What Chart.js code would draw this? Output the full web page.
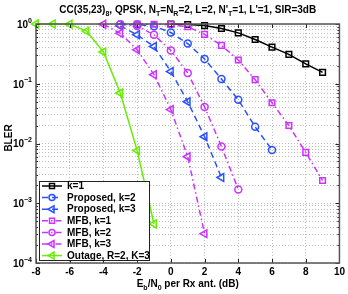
<!DOCTYPE html>
<html>
<head>
<meta charset="utf-8">
<script src="https://cdn.jsdelivr.net/npm/chart.js@4/dist/chart.umd.min.js"></script>
<style>
  html, body { margin: 0; padding: 0; background: #fff; }
  #wrap { width: 348px; height: 294px; }
</style>
</head>
<body>
<div id="wrap"><canvas id="graficaBler" width="348" height="294"></canvas></div>
<script>
// valores (Eb/N0 en dB, BLER)
const k1X = [0, 1, 2, 3, 4, 5, 6, 7, 8, 9];
const k1Y = [1.0, 0.98, 0.94, 0.84, 0.71, 0.55, 0.41, 0.31, 0.215, 0.155];

const propK2X = [-3, -2, -1, 0, 1, 2, 3, 4, 5, 6];
const propK2Y = [0.99, 0.98, 0.92, 0.72, 0.47, 0.26, 0.12, 0.054, 0.019, 0.0078];

const propK3X = [-3, -2, -1, 0, 1, 2, 3];
const propK3Y = [0.93, 0.66, 0.42, 0.16, 0.05, 0.013, 0.0027];

const mfbK1X = [-2, -1, 0, 1, 2, 3, 4, 5, 6, 7, 8, 9];
const mfbK1Y = [1.0, 0.99, 0.98, 0.9, 0.67, 0.44, 0.25, 0.117, 0.048, 0.02, 0.0071, 0.0024];

const mfbK2X = [-3, -2, -1, 0, 1, 2, 3, 4];
const mfbK2Y = [0.99, 0.93, 0.66, 0.36, 0.152, 0.041, 0.0089, 0.0017];

const mfbK3X = [-4, -3, -2, -1, 0, 1, 2];
const mfbK3Y = [0.99, 0.70, 0.37, 0.142, 0.037, 0.006, 0.00031];

const outX = [-8, -7, -6, -5, -4, -3, -2, -1];
const outY = [1.0, 1.0, 0.99, 0.76, 0.34, 0.07, 0.0076, 0.00045];

const xTicks = [-8, -6, -4, -2, 0, 2, 4, 6, 8, 10];
const yDecades = [-4, -3, -2, -1, 0];

const FONT = '"Liberation Sans", Arial, Helvetica, sans-serif';
const BLUE = 'rgb(40, 80, 255)';
const PURPLE = 'rgb(204, 51, 255)';
const GREEN = 'rgb(102, 238, 0)';

function pts(xs, ys) {
  return xs.map(function (x, i) { return { x: x, y: ys[i] }; });
}

function serie(label, xs, ys, color, style, dash, radius) {
  return {
    label: label,
    data: pts(xs, ys),
    borderColor: color,
    backgroundColor: 'rgba(0,0,0,0)',
    pointBorderColor: color,
    pointBackgroundColor: 'rgba(0,0,0,0)',
    borderWidth: 1.5,
    pointBorderWidth: 1.5,
    borderDash: dash,
    pointStyle: style,
    pointRotation: style === 'triangle' ? -90 : 0,
    pointRadius: radius,
    tension: 0,
    clip: false
  };
}

const datasets = [
  serie('k=1', k1X, k1Y, '#000', 'rect', [], 4),
  serie('Proposed, k=2', propK2X, propK2Y, BLUE, 'circle', [6, 4], 3.5),
  serie('Proposed, k=3', propK3X, propK3Y, BLUE, 'triangle', [6, 4], 4.5),
  serie('MFB, k=1', mfbK1X, mfbK1Y, PURPLE, 'rect', [6, 3, 1.5, 3], 4),
  serie('MFB, k=2', mfbK2X, mfbK2Y, PURPLE, 'circle', [6, 3, 1.5, 3], 3.5),
  serie('MFB, k=3', mfbK3X, mfbK3Y, PURPLE, 'triangle', [6, 3, 1.5, 3], 4.5),
  serie('Outage, R=2, K=3', outX, outY, GREEN, 'triangle', [], 4.5)
];
// el ultimo trazado queda encima, como en matlab
datasets.forEach(function (d, i) { d.order = datasets.length - i; });

// texto con subindices / superindices: partes [texto, 'n'|'b'|'p']
function richWidth(ctx, parts, size) {
  let w = 0;
  parts.forEach(function (p) {
    ctx.font = 'bold ' + (p[1] === 'n' ? size : Math.round(size * 0.72)) + 'px ' + FONT;
    w += ctx.measureText(p[0]).width;
  });
  return w;
}

function drawRich(ctx, parts, x, y, size, align) {
  const w = richWidth(ctx, parts, size);
  let cx = align === 'center' ? x - w / 2 : (align === 'right' ? x - w : x);
  ctx.textAlign = 'left';
  ctx.textBaseline = 'middle';
  parts.forEach(function (p) {
    const s = p[1] === 'n' ? size : Math.round(size * 0.72);
    const dy = p[1] === 'b' ? size * 0.38 : (p[1] === 'p' ? -size * 0.42 : 0);
    ctx.font = 'bold ' + s + 'px ' + FONT;
    ctx.fillText(p[0], cx, y + dy);
    cx += ctx.measureText(p[0]).width;
  });
}

const decoracion = {
  id: 'decoracion',
  afterDraw: function (chart) {
    const ctx = chart.ctx;
    const a = chart.chartArea;
    const xs = chart.scales.x;
    const ys = chart.scales.y;
    ctx.save();
    ctx.fillStyle = '#000';

    // titulo
    drawRich(ctx, [['CC(35,23)', 'n'], ['8', 'b'], [', QPSK, N', 'n'], ['T', 'b'], ['=N', 'n'],
      ['R', 'b'], ['=2, L=2, N\'', 'n'], ['T', 'b'], ['=1, L\'=1, SIR=3dB', 'n']],
      (a.left + a.right) / 2, 10, 10, 'center');

    // etiqueta eje x
    drawRich(ctx, [['E', 'n'], ['b', 'b'], ['/N', 'n'], ['0', 'b'], [' per Rx ant. (dB)', 'n']],
      (a.left + a.right) / 2, 284, 10, 'center');

    // etiquetas eje y
    yDecades.forEach(function (d) {
      const py = ys.getPixelForValue(Math.pow(10, d));
      drawRich(ctx, [['10', 'n'], [d === 0 ? '0' : '\u2212' + (-d), 'p']], a.left - 4, py + 1, 10, 'right');
    });

    ctx.save();
    ctx.translate(9, 138);
    ctx.rotate(-Math.PI / 2);
    ctx.font = 'bold 10px ' + FONT;
    ctx.textAlign = 'center';
    ctx.textBaseline = 'middle';
    ctx.fillText('BLER', 0, 0);
    ctx.restore();

    // marcas hacia dentro
    ctx.strokeStyle = '#222';
    ctx.lineWidth = 1;
    ctx.beginPath();
    xTicks.forEach(function (v) {
      const px = Math.round(xs.getPixelForValue(v)) + 0.5;
      ctx.moveTo(px, a.bottom); ctx.lineTo(px, a.bottom - 4);
      ctx.moveTo(px, a.top); ctx.lineTo(px, a.top + 4);
    });
    ys.ticks.forEach(function (t) {
      const py = Math.round(ys.getPixelForValue(t.value)) + 0.5;
      const len = t.major ? 4 : 2;
      ctx.moveTo(a.left, py); ctx.lineTo(a.left + len, py);
      ctx.moveTo(a.right, py); ctx.lineTo(a.right - len, py);
    });
    ctx.stroke();

    // caja
    ctx.strokeStyle = '#555';
    ctx.lineWidth = 1.5;
    ctx.strokeRect(a.left, a.top, a.right - a.left, a.bottom - a.top);

    // leyenda
    const lx = 39, ly = 181, lw = 110, lh = 79, row = 11.6;
    ctx.fillStyle = '#fff';
    ctx.fillRect(lx, ly, lw, lh);
    ctx.strokeStyle = '#222';
    ctx.lineWidth = 1;
    ctx.strokeRect(lx + 0.5, ly + 0.5, lw, lh);
    chart.data.datasets.forEach(function (ds, i) {
      const cy = ly + 5 + i * row;
      ctx.strokeStyle = ds.borderColor;
      ctx.lineWidth = 1.5;
      ctx.setLineDash(ds.borderDash);
      ctx.beginPath();
      ctx.moveTo(lx + 3, cy); ctx.lineTo(lx + 23, cy);
      ctx.stroke();
      ctx.setLineDash([]);
      ctx.fillStyle = 'rgba(0,0,0,0)';
      Chart.helpers.drawPoint(ctx, {
        pointStyle: ds.pointStyle, radius: ds.pointRadius - 0.5,
        rotation: ds.pointRotation, borderWidth: 1.5
      }, lx + 13, cy);
      ctx.fillStyle = '#000';
      ctx.font = 'bold 10px ' + FONT;
      ctx.textAlign = 'left';
      ctx.textBaseline = 'middle';
      ctx.fillText(ds.label, lx + 28, cy + 0.5);
    });
    ctx.restore();
  }
};

const ctx = document.getElementById('graficaBler').getContext('2d');
new Chart(ctx, {
  type: 'line',
  data: { datasets: datasets },
  plugins: [decoracion],
  options: {
    responsive: false,
    animation: false,
    events: [],
    layout: { padding: { top: 24, right: 8, left: 0, bottom: 0 } },
    scales: {
      x: {
        type: 'linear',
        min: -8,
        max: 10,
        afterBuildTicks: function (scale) {
          scale.ticks = xTicks.map(function (v) { return { value: v }; });
        },
        afterFit: function (scale) { scale.height = 31; },
        ticks: {
          color: '#000',
          padding: 3,
          maxRotation: 0,
          font: { family: FONT, size: 10, weight: 'bold' }
        },
        grid: { color: '#bdbdbd', drawTicks: false, lineWidth: 1 },
        border: { display: false, dash: [1, 2] }
      },
      y: {
        type: 'logarithmic',
        min: 1e-4,
        max: 1,
        afterBuildTicks: function (scale) {
          const t = [];
          yDecades.forEach(function (d) {
            const base = Math.pow(10, d);
            const top = d === 0 ? 1 : 9;
            for (let m = 1; m <= top; m++) {
              t.push({ value: m * base, major: m === 1 });
            }
          });
          scale.ticks = t;
        },
        afterFit: function (scale) { scale.width = 36; },
        ticks: { display: false },
        grid: { color: '#bdbdbd', drawTicks: false, lineWidth: 1 },
        border: { display: false, dash: [1, 2] }
      }
    },
    plugins: {
      legend: { display: false },
      tooltip: { enabled: false },
      title: { display: false }
    }
  }
});
</script>
</body>
</html>
